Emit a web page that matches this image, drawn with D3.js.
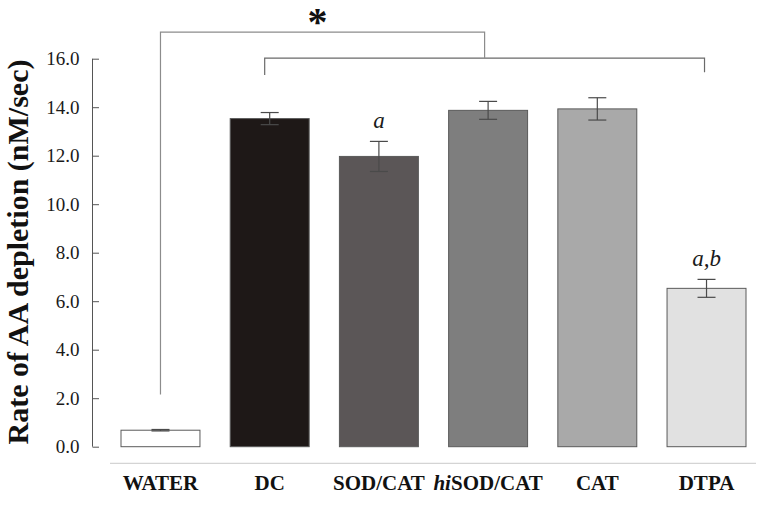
<!DOCTYPE html>
<html>
<head>
<meta charset="utf-8">
<script src="https://cdn.jsdelivr.net/npm/d3@7"></script>
<style>
  body { margin: 0; background: #fff; }
  svg { display: block; }
  text { font-family: "Liberation Serif", "Times New Roman", serif; }
</style>
</head>
<body>
<svg id="chart" width="767" height="505"></svg>
<script>
const categories = ["WATER", "DC", "SOD/CAT", "hiSOD/CAT", "CAT", "DTPA"];
const rates = [0.68, 13.53, 11.97, 13.87, 13.93, 6.53];
const errors = [0.03, 0.25, 0.62, 0.37, 0.46, 0.37];
const fills = ["#ffffff", "#1e1817", "#5b5657", "#7e7e7e", "#a9a9a9", "#e1e1e1"];
const marks = ["", "", "a", "", "", "a,b"];
const yTicks = [0, 2, 4, 6, 8, 10, 12, 14, 16];

const svg = d3.select("#chart");

const y = d3.scaleLinear().domain([0, 16]).range([446.7, 58.7]);
const x = d3.scaleBand().domain(categories).range([121, 746]).paddingInner(0.277).paddingOuter(0);

// y axis, ticks point inward
const yAxis = svg.append("g")
  .attr("transform", "translate(92.5,0)")
  .call(d3.axisLeft(y).tickValues(yTicks).tickSize(-6.5).tickPadding(13).tickFormat(d3.format(".1f")))
  .attr("font-family", "'Liberation Serif', serif")
  .attr("font-size", 19);
yAxis.select(".domain").attr("stroke", "#555").attr("d", "M0," + y(16) + "V" + y(0));
yAxis.selectAll(".tick line").attr("stroke", "#555");
yAxis.selectAll(".tick text").attr("x", -13).attr("fill", "#1a1a1a");

// baseline under the bars
svg.append("line")
  .attr("x1", 110).attr("x2", 756)
  .attr("y1", 463.3).attr("y2", 463.3)
  .attr("stroke", "#d4d4d4").attr("stroke-width", 1.2);

const rows = categories.map((c, i) => ({ c, v: rates[i], e: errors[i], fill: fills[i], mark: marks[i] }));

svg.append("g").selectAll("rect")
  .data(rows).enter().append("rect")
  .attr("x", d => x(d.c))
  .attr("width", x.bandwidth())
  .attr("y", d => y(d.v))
  .attr("height", d => y(0) - y(d.v))
  .attr("fill", d => d.fill)
  .attr("stroke", "#5a5a5a")
  .attr("stroke-width", 1);

// error bars
const eb = svg.append("g").attr("stroke", "#4a4a4a").attr("stroke-width", 1.2);
rows.forEach(d => {
  const cx = x(d.c) + x.bandwidth() / 2;
  const cap = 9;
  eb.append("line").attr("x1", cx).attr("x2", cx).attr("y1", y(d.v + d.e)).attr("y2", y(d.v - d.e));
  eb.append("line").attr("x1", cx - cap).attr("x2", cx + cap).attr("y1", y(d.v + d.e)).attr("y2", y(d.v + d.e));
  eb.append("line").attr("x1", cx - cap).attr("x2", cx + cap).attr("y1", y(d.v - d.e)).attr("y2", y(d.v - d.e));
});

// significance letters
svg.append("g").selectAll("text")
  .data(rows.filter(d => d.mark)).enter().append("text")
  .attr("x", d => x(d.c) + x.bandwidth() / 2)
  .attr("y", d => y(d.v + d.e) - 13)
  .attr("text-anchor", "middle")
  .attr("font-size", 23)
  .attr("font-style", "italic")
  .attr("fill", "#1a1a1a")
  .text(d => d.mark);

// x labels
const xl = svg.append("g").selectAll("text")
  .data(rows).enter().append("text")
  .attr("x", d => x(d.c) + x.bandwidth() / 2)
  .attr("y", 490)
  .attr("text-anchor", "middle")
  .attr("font-size", 21)
  .attr("font-weight", "bold")
  .attr("fill", "#111");
xl.each(function (d) {
  const t = d3.select(this);
  if (d.c.startsWith("hi")) {
    t.append("tspan").attr("font-style", "italic").text("hi");
    t.append("tspan").text(d.c.slice(2));
  } else {
    t.text(d.c);
  }
});

// brackets
const cxOf = c => x(c) + x.bandwidth() / 2;
const innerL = cxOf("DC") - 5, innerR = cxOf("DTPA") - 2;
const innerMid = (innerL + innerR) / 2;
svg.append("path")
  .attr("d", `M${innerL},${y(15.33)}V${y(16.02)}H${innerR}V${y(15.44)}`)
  .attr("fill", "none").attr("stroke", "#6a6a6a").attr("stroke-width", 1.2);
svg.append("path")
  .attr("d", `M${cxOf("WATER")},${y(2.15)}V${y(17.1)}H${innerMid}V${y(16.02)}`)
  .attr("fill", "none").attr("stroke", "#8c8c8c").attr("stroke-width", 1.2);
svg.append("text")
  .attr("x", innerMid - 167).attr("y", 35)
  .attr("text-anchor", "middle")
  .attr("font-size", 40).attr("font-weight", "bold").attr("fill", "#111")
  .text("*");

// y axis title
svg.append("text")
  .attr("transform", "translate(28,252) rotate(-90)")
  .attr("text-anchor", "middle")
  .attr("font-size", 30)
  .attr("font-weight", "bold")
  .attr("fill", "#111")
  .text("Rate of AA depletion (nM/sec)");
</script>
</body>
</html>
